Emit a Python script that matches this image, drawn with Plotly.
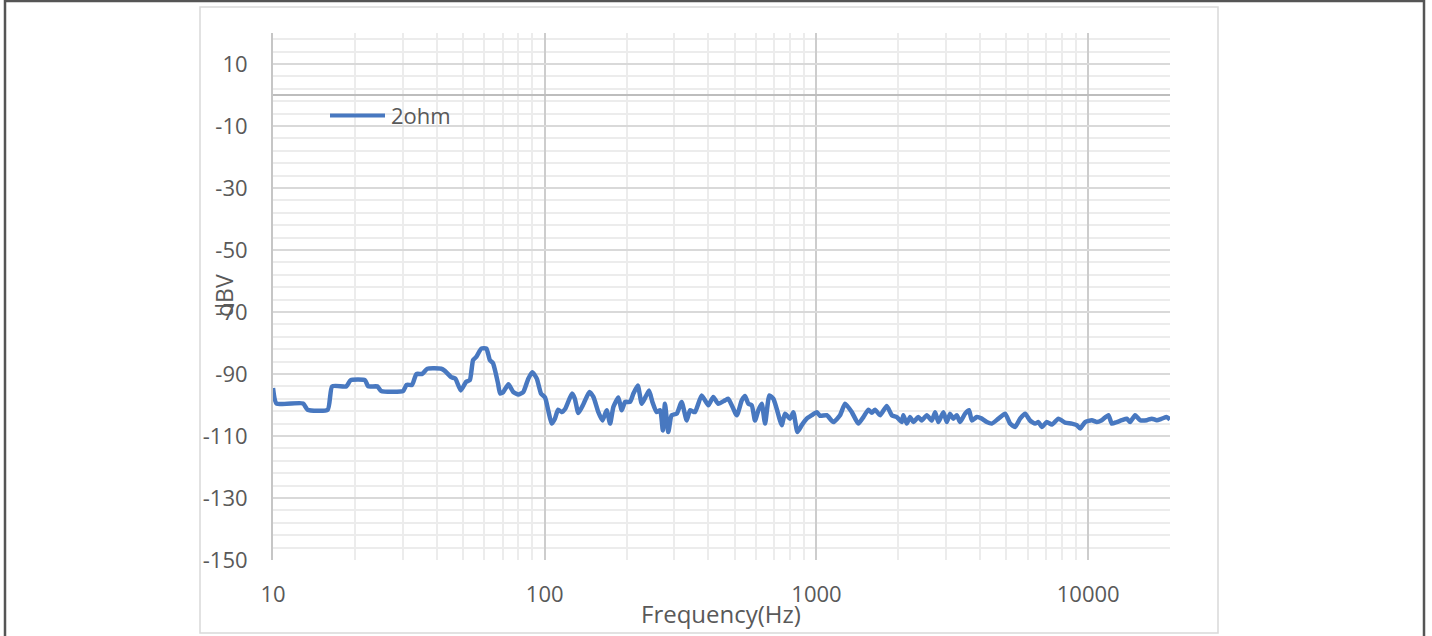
import plotly.graph_objects as go

# Output noise spectrum of the 2 ohm load measurement
freq_hz = [
    10, 10.3, 12.9, 13.4, 15.9, 16.5, 18.6, 19.3, 21.8, 22.4,
    24.2, 25, 30.1, 31, 32.5, 33.7, 35.4, 37, 41.6, 42.9,
    45.3, 46.9, 49.1, 51.4, 53, 54.5, 56, 58.4, 61, 62.8,
    64.5, 67.3, 68.5, 70.4, 73.5, 76.6, 80, 83.4, 87, 90,
    93.5, 96.9, 100.3, 103, 106, 109, 112, 115.5, 119, 126,
    129, 133, 139, 146, 151, 157.5, 163, 169, 174, 179,
    186.6, 192, 197.5, 206, 212, 220, 227.5, 235, 242, 249,
    258, 266, 272, 277, 285, 293, 306, 319, 333, 342.5,
    357, 378, 400, 417, 435, 461, 474, 509, 531, 546,
    561.5, 578, 594, 611, 629, 647, 671, 694, 714, 745,
    766, 800, 822, 851, 883, 921, 961, 1003, 1031, 1091,
    1154, 1221, 1274, 1349, 1426, 1488, 1552, 1598, 1643, 1714,
    1814, 1893, 1975, 2060, 2088, 2149, 2211, 2273, 2371, 2441,
    2547, 2657, 2733, 2810, 2931, 3017, 3102, 3190, 3284, 3377,
    3524, 3643, 3730, 3890, 4060, 4235, 4418, 4672, 4945, 5160,
    5380, 5615, 5860, 6110, 6380, 6560, 6750, 7040, 7350, 7770,
    8220, 8700, 9080, 9340, 9740, 10310, 10760, 11220, 11870, 12210,
    12740, 13300, 13870, 14260, 14880, 15520, 16430, 17140, 17880, 18660,
    19470, 20000,
]
level_dbv = [
    -94.5, -99.5, -99.5, -101.5, -101.5, -94, -94, -92, -92, -94,
    -94, -95.5, -95.5, -93.5, -93.5, -90, -90, -88.3, -88.3, -89,
    -91, -91.5, -95.3, -92.5, -92, -85.5, -84.5, -81.8, -81.8, -85.5,
    -86.5, -93, -96.3, -95.8, -93.3, -95.8, -96.6, -95.8, -91.5, -89.4,
    -91.5, -96.3, -97.6, -101.7, -106, -104.4, -101.5, -102.3, -101.2, -96.3,
    -97.9, -102.6, -99.6, -95.8, -97.4, -102.3, -105, -101.7, -106, -100.6,
    -97.6, -101.7, -99, -99, -96.3, -93.7, -99.6, -97.4, -95.3, -99,
    -102.3, -101.7, -108.2, -99.6, -108.7, -103.3, -102.8, -99, -105, -101.7,
    -102.3, -96.9, -100.1, -97.4, -99.6, -98.5, -98, -103.3, -98.5, -97.1,
    -99.6, -100.1, -105, -101.7, -99.6, -106, -96.9, -98, -101.2, -106.5,
    -102.8, -104.4, -102.3, -108.7, -106.5, -104.4, -103.3, -102.3, -103.5, -103.3,
    -105.5, -103.3, -99.6, -102.3, -106, -103.9, -101.5, -102.5, -101.5, -103.3,
    -100.3, -103.3, -103.9, -105.5, -103.3, -106, -103.9, -105.5, -103.9, -105,
    -103.3, -105, -102.3, -105.5, -102.3, -105.5, -102.8, -104.4, -103.3, -105.5,
    -102.8, -101.7, -105, -103.9, -104.4, -105.5, -106, -104.4, -102.8, -106,
    -107.1, -104.4, -102.8, -105, -106, -105.5, -107.1, -105.5, -106.3, -104.4,
    -105.7, -106, -106.5, -107.6, -105.5, -104.9, -105.5, -104.9, -103.3, -106,
    -105.5, -104.9, -104.4, -105.5, -103.3, -104.9, -104.9, -104.4, -104.9, -104.4,
    -103.9, -104.7,
]
series_name = "2ohm"

x_tick_vals = [10, 100, 1000, 10000]
x_tick_text = ["10", "100", "1000", "10000"]
y_tick_vals = [-150, -130, -110, -90, -70, -50, -30, -10, 10]
y_tick_text = ["-150", "-130", "-110", "-90", "-70", "-50", "-30", "-10", "10"]

# minor log grid: 2..9 within each decade
x_minor_vals = [m * d for d in (10, 100, 1000) for m in range(2, 10)] + [20000]

LINE_BLUE = "#4878c0"
TEXT_GREY = "#595959"
FONT = "Open Sans"

W, H = 1432, 636
PL, PR, PT, PB = 273, 1170, 33, 560  # plot area in pixels


def px_x(p):
    return (p - PL) / (PR - PL)


def px_y(p):
    return (PB - p) / (PB - PT)


fig = go.Figure()
fig.add_trace(go.Scatter(
    x=freq_hz, y=level_dbv, name=series_name, mode="lines",
    line=dict(color=LINE_BLUE, width=4.5, shape="spline", smoothing=0.5),
    showlegend=False,
))

fig.update_layout(
    template="none",
    width=W, height=H,
    margin=dict(l=PL, r=W - PR, t=PT, b=H - PB),
    paper_bgcolor="white", plot_bgcolor="white",
    font=dict(family=FONT, color=TEXT_GREY, size=22),
    xaxis=dict(
        type="log", range=[1, 4.30103],
        tickmode="array", tickvals=x_tick_vals, ticktext=x_tick_text,
        showgrid=True, gridcolor="#cdcdcd", gridwidth=2,
        minor=dict(tickmode="array", tickvals=x_minor_vals,
                   showgrid=True, gridcolor="#ececec", gridwidth=1.5, ticks=""),
        showline=False, zeroline=False, ticks="",
        ticklabelstandoff=19,
        tickfont=dict(family=FONT, size=22, color=TEXT_GREY),
    ),
    yaxis=dict(
        range=[-150, 20],
        tickmode="array", tickvals=y_tick_vals, ticktext=y_tick_text,
        showgrid=True, gridcolor="#d9d9d9", gridwidth=2,
        minor=dict(tick0=-150, dtick=4, showgrid=True,
                   gridcolor="#ececec", gridwidth=1.5, ticks=""),
        zeroline=True, zerolinecolor="#bdbdbd", zerolinewidth=2,
        showline=True, linecolor="#c6c6c6", linewidth=2,
        ticks="", ticklabelstandoff=19,
        tickfont=dict(family=FONT, size=22, color=TEXT_GREY),
    ),
    shapes=[
        # outer frame
        dict(type="rect", xref="paper", yref="paper",
             x0=px_x(5), x1=px_x(1424), y0=px_y(700), y1=px_y(1),
             line=dict(color="#555555", width=2.5), fillcolor="rgba(0,0,0,0)",
             layer="above"),
        # chart area border
        dict(type="rect", xref="paper", yref="paper",
             x0=px_x(200), x1=px_x(1218), y0=px_y(633), y1=px_y(7),
             line=dict(color="#d9d9d9", width=1.5), fillcolor="rgba(0,0,0,0)",
             layer="below"),
        # legend key
        dict(type="line", xref="paper", yref="paper",
             x0=px_x(330), x1=px_x(385), y0=px_y(115.5), y1=px_y(115.5),
             line=dict(color=LINE_BLUE, width=4)),
    ],
    annotations=[
        dict(text=series_name, xref="paper", yref="paper",
             x=px_x(389), y=px_y(115.5), xanchor="left", yanchor="middle",
             showarrow=False, font=dict(family=FONT, size=22, color=TEXT_GREY)),
        dict(text="Frequency(Hz)", xref="paper", yref="paper",
             x=px_x(721), y=px_y(613), xanchor="center", yanchor="middle",
             showarrow=False, font=dict(family=FONT, size=24, color=TEXT_GREY)),
        dict(text="dBV", xref="paper", yref="paper", textangle=-90,
             x=px_x(224), y=px_y(296), xanchor="center", yanchor="middle",
             showarrow=False, font=dict(family=FONT, size=23, color=TEXT_GREY)),
    ],
)

fig.write_html("out.html")
